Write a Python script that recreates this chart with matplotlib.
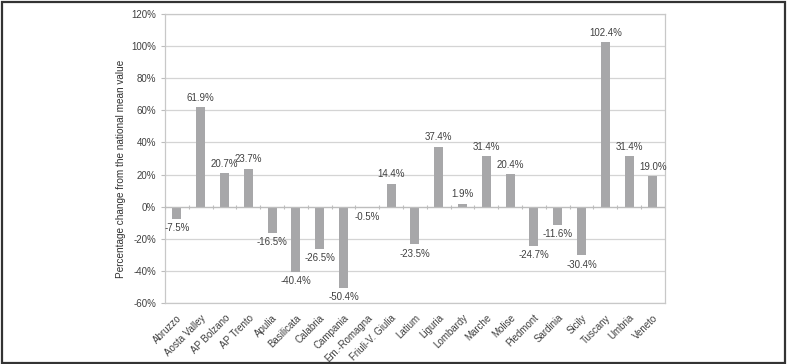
import numpy as np
import matplotlib.pyplot as plt
from matplotlib.patches import Rectangle

plt.rcParams['font.family'] = ['Liberation Sans', 'DejaVu Sans']

regions = ["Abruzzo", "Aosta Valley", "AP Bolzano", "AP Trento", "Apulia",
           "Basilicata", "Calabria", "Campania", "Em.-Romagna", "Friuli-V. Giulia",
           "Latium", "Liguria", "Lombardy", "Marche", "Molise", "Piedmont",
           "Sardinia", "Sicily", "Tuscany", "Umbria", "Veneto"]
change = [-7.5, 61.9, 20.7, 23.7, -16.5, -40.4, -26.5, -50.4, -0.5, 14.4,
          -23.5, 37.4, 1.9, 31.4, 20.4, -24.7, -11.6, -30.4, 102.4, 31.4, 19.0]
yticks = [-60, -40, -20, 0, 20, 40, 60, 80, 100, 120]

text_col = '#404040'
grid_col = '#d4d4d4'

fig = plt.figure(figsize=(7.87, 3.64), dpi=100)
ax = fig.add_axes([0.2097, 0.1676, 0.635, 0.7939])

x = np.arange(len(regions))
ax.bar(x, change, width=0.38, color='#a7a7a9', zorder=3)

for xi, v in zip(x, change):
    if v >= 0:
        ax.annotate(f"{v:.1f}%", (xi, v), xytext=(0, 3), textcoords='offset points',
                    ha='center', va='bottom', fontsize=7, color=text_col)
    else:
        ax.annotate(f"{v:.1f}%", (xi, v), xytext=(0, -3), textcoords='offset points',
                    ha='center', va='top', fontsize=7, color=text_col)

ax.set_xlim(-0.5, len(regions) - 0.5)
ax.set_ylim(-60, 120)
ax.set_yticks(yticks)
ax.set_yticklabels([f"{t}%" for t in yticks])
ax.yaxis.grid(True, color=grid_col, lw=0.9, zorder=0)

# zero axis with category boundary ticks
ax.axhline(0, color='#bdbdbd', lw=0.9, zorder=4)
ax.vlines(np.arange(len(regions) + 1) - 0.5, -1.3, 1.0, color='#bdbdbd', lw=0.8, zorder=4)

ax.set_xticks(x)
ax.set_xticklabels(regions, rotation=45, ha='right', rotation_mode='anchor')
ax.tick_params(axis='x', length=0, pad=7, labelsize=7, labelcolor=text_col)
ax.tick_params(axis='y', length=3, color='#bdbdbd', labelsize=7, labelcolor=text_col)

for s in ax.spines.values():
    s.set_color('#c8c8c8')
    s.set_linewidth(0.9)

ax.set_ylabel("Percentage change from the national mean value", fontsize=7.2,
              color='#303030')
ax.yaxis.set_label_coords(-0.078, 0.464)

fig.patches.append(Rectangle((0.002, 0.004), 0.995, 0.991, transform=fig.transFigure,
                             fill=False, edgecolor='#333333', lw=1.6))

fig.savefig("out.png", dpi=100)
